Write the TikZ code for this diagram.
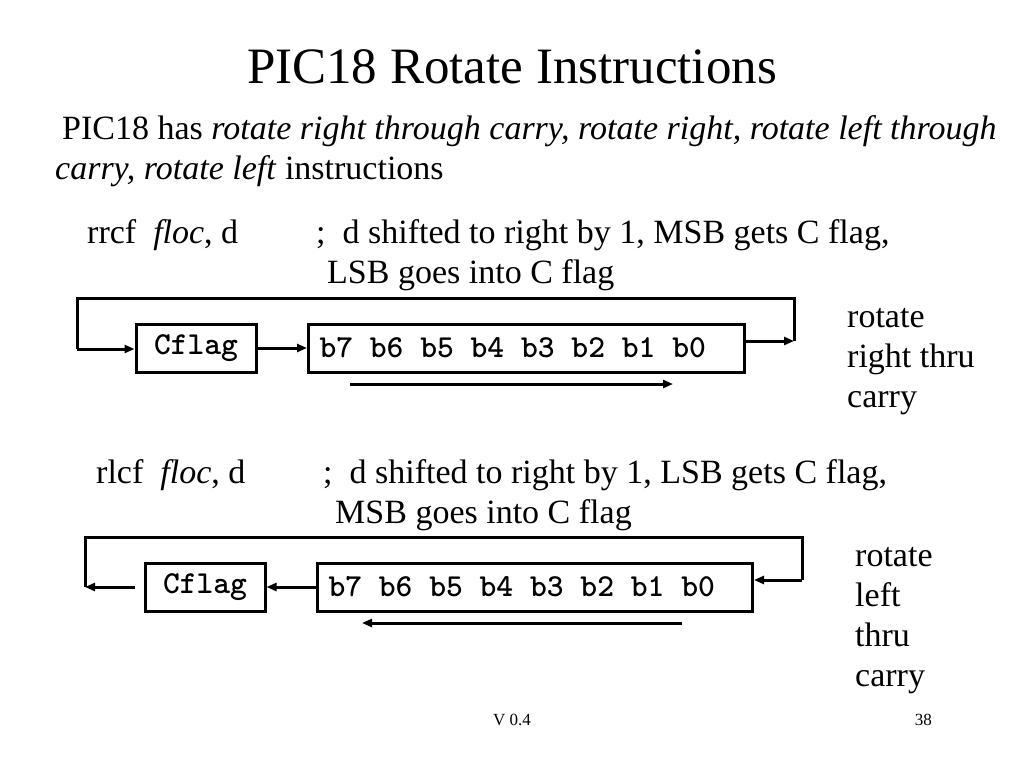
\documentclass[tikz,border=0pt]{standalone}
\usepackage{fontspec}
\setmainfont{Liberation Serif}
\usetikzlibrary{arrows.meta}
\newcommand\regfont{\ttfamily\bfseries\fontsize{32}{32}\selectfont}
\newcommand\regsp{\hspace{0.525em}}

\begin{document}
\begin{tikzpicture}[x=1pt,y=-1pt,
  wire/.style={line width=3pt},
  flow/.style={line width=3pt,-{Triangle[length=10pt,width=8pt]}},
  reg/.style={draw,line width=3pt,minimum height=48pt,inner sep=0pt,font=\regfont},
  txt/.style={anchor=base west,inner sep=0pt,font=\fontsize{34}{40}\selectfont}]
  \useasboundingbox (0,0) rectangle (1024,768);
  % title and intro
  \node[anchor=base,inner sep=0pt,font=\fontsize{51}{60}\selectfont] (title) at (512,83) {PIC18 Rotate Instructions};
  \node[txt] (intro1) at (62,139) {PIC18 has \textit{rotate right through carry, rotate right, rotate left through}};
  \node[txt] (intro2) at (55,179) {\textit{carry, rotate left} instructions};
  % rrcf
  \node[txt] (rrcf) at (87,243) {rrcf\ \ \textit{floc}, d};
  \node[txt] (rrcfa) at (316,243) {;\ \ d shifted to right by 1, MSB gets C flag,};
  \node[txt] (rrcfb) at (327,283) {LSB goes into C flag};
  \node[reg,minimum width=120pt] (cf1) at (196,348) {Cflag};
  \node[reg,anchor=west,text width=414pt,align=left,inner xsep=11pt] (bits1) at (307,348)
    {b7\regsp b6\regsp b5\regsp b4\regsp b3\regsp b2\regsp b1\regsp b0};
  \coordinate (r1) at (794,341);
  \coordinate (l1) at (77,349);
  \draw[flow] (bits1.east |- r1) -- (r1);
  \draw[wire] (r1) -- (794,298) -- (77,298) -- (l1);
  \draw[flow] (l1) -- (cf1.west |- l1);
  \draw[flow] (cf1.east) -- (bits1.west);
  \coordinate (s1a) at (350,384);
  \coordinate (s1b) at (673,384);
  \draw[flow] (s1a) -- (s1b);
  \foreach \t [count=\i] in {rotate, right thru, carry}
    \node[txt] (rr-\i) at (847,327+40*\i-40) {\t};
  % rlcf
  \node[txt] (rlcf) at (96,483) {rlcf\ \ \textit{floc}, d};
  \node[txt] (rlcfa) at (323,483) {;\ \ d shifted to right by 1, LSB gets C flag,};
  \node[txt] (rlcfb) at (335,523) {MSB goes into C flag};
  \node[reg,minimum width=120pt] (cf2) at (205,587) {Cflag};
  \node[reg,anchor=west,text width=413pt,align=left,inner xsep=11pt] (bits2) at (316,587)
    {b7\regsp b6\regsp b5\regsp b4\regsp b3\regsp b2\regsp b1\regsp b0};
  \coordinate (r2) at (802,580);
  \coordinate (l2) at (85,587);
  \draw[flow] (r2) -- (bits2.east |- r2);
  \draw[wire] (r2) -- (802,537) -- (85,537) -- (l2);
  \draw[flow] ([xshift=-9pt]cf2.west) -- (l2);
  \draw[flow] (bits2.west) -- (cf2.east);
  \coordinate (s2a) at (682,623);
  \coordinate (s2b) at (362,623);
  \draw[flow] (s2a) -- (s2b);
  \foreach \t [count=\i] in {rotate, left, thru, carry}
    \node[txt] (rl-\i) at (855,566+40*\i-40) {\t};
  % footer
  \node[anchor=base,inner sep=0pt,font=\fontsize{17}{20}\selectfont] (ver) at (512,725) {V 0.4};
  \node[anchor=base east,inner sep=0pt,font=\fontsize{17}{20}\selectfont] (page) at (932,725) {38};
\end{tikzpicture}
\end{document}
